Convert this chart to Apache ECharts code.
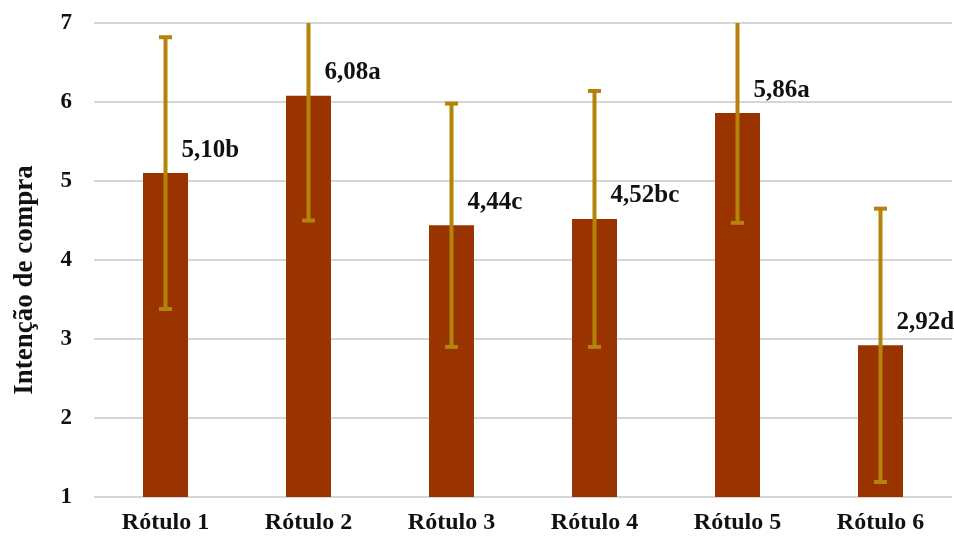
<!DOCTYPE html>
<html>
<head>
<meta charset="utf-8">
<script src="https://cdn.jsdelivr.net/npm/echarts@6/dist/echarts.min.js"></script>
<style>
  html, body { margin: 0; padding: 0; background: #ffffff; }
  #chart { width: 954px; height: 537px; }
</style>
</head>
<body>
<div id="chart"></div>
<script>
// Purchase intention per label: mean, standard deviation and significance letters
const categories = ['Rótulo 1', 'Rótulo 2', 'Rótulo 3', 'Rótulo 4', 'Rótulo 5', 'Rótulo 6'];
const means = [5.10, 6.08, 4.44, 4.52, 5.86, 2.92];
const stdDev = [1.72, 1.58, 1.54, 1.62, 1.39, 1.73];
const letters = ['b', 'a', 'c', 'bc', 'a', 'd'];
const yTicks = [1, 2, 3, 4, 5, 6, 7];

const FONT = "'Liberation Serif', 'Times New Roman', serif";
const BAR_COLOR = '#993300';
const ERR_COLOR = '#B3830B';

const errorData = means.map((m, i) => [i, m - stdDev[i], m + stdDev[i]]);

const chart = echarts.init(document.getElementById('chart'), null, { renderer: 'canvas' });

chart.setOption({
  animation: false,
  backgroundColor: '#ffffff',
  grid: { left: 94, right: 2, top: 23, bottom: 40 },
  xAxis: {
    type: 'category',
    data: categories,
    axisLine: { show: false },
    axisTick: { show: false },
    axisLabel: {
      margin: 14,
      color: '#111111',
      fontFamily: FONT,
      fontWeight: 'bold',
      fontSize: 24
    }
  },
  yAxis: {
    type: 'value',
    min: yTicks[0],
    max: yTicks[yTicks.length - 1],
    interval: 1,
    name: 'Intenção de compra',
    nameLocation: 'middle',
    nameGap: 55,
    nameTextStyle: {
      color: '#111111',
      fontFamily: FONT,
      fontWeight: 'bold',
      fontSize: 27,
      padding: [0, 40, 0, 0]
    },
    axisLine: { show: false },
    axisTick: { show: false },
    axisLabel: {
      margin: 22,
      color: '#111111',
      fontFamily: FONT,
      fontWeight: 'bold',
      fontSize: 23,
      formatter: v => String(v)
    },
    splitLine: { lineStyle: { color: '#d6d6d6', width: 2 } }
  },
  series: [
    {
      type: 'bar',
      data: means,
      barWidth: 45,
      itemStyle: { color: BAR_COLOR },
      label: {
        show: true,
        position: ['50%', 0],
        align: 'left',
        verticalAlign: 'middle',
        offset: [16, -23],
        color: '#111111',
        fontFamily: FONT,
        fontWeight: 'bold',
        fontSize: 25,
        formatter: p => means[p.dataIndex].toFixed(2).replace('.', ',') + letters[p.dataIndex]
      },
      z: 2
    },
    {
      // standard deviation whiskers
      type: 'custom',
      clip: true,
      data: errorData,
      z: 3,
      renderItem: function (params, api) {
        const x = api.value(0);
        const lo = api.coord([x, api.value(1)]);
        const hi = api.coord([x, api.value(2)]);
        const capHalf = 6.5;
        const style = { stroke: ERR_COLOR, lineWidth: 4, fill: null };
        return {
          type: 'group',
          children: [
            { type: 'line', shape: { x1: lo[0], y1: lo[1], x2: hi[0], y2: hi[1] }, style },
            { type: 'line', shape: { x1: lo[0] - capHalf, y1: lo[1], x2: lo[0] + capHalf, y2: lo[1] }, style },
            { type: 'line', shape: { x1: hi[0] - capHalf, y1: hi[1], x2: hi[0] + capHalf, y2: hi[1] }, style }
          ]
        };
      }
    }
  ]
});
</script>
</body>
</html>
